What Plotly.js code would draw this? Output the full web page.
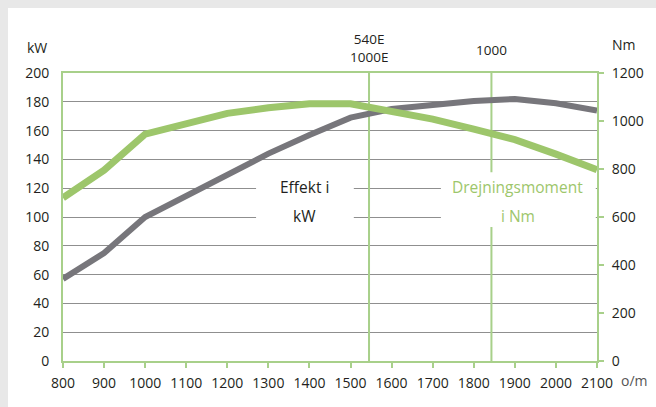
<!DOCTYPE html>
<html>
<head>
<meta charset="utf-8">
<script src="https://cdn.plot.ly/plotly-3.0.1.min.js"></script>
<style>
  html, body { margin: 0; padding: 0; background: #e8e8e8; }
  #chart { position: absolute; left: 8px; top: 8px; width: 648px; height: 399px; background: #ffffff; }
</style>
</head>
<body>
<div id="chart"></div>
<script>
// Data
const rpm = [800, 900, 1000, 1100, 1200, 1300, 1400, 1500, 1600, 1700, 1800, 1900, 2000, 2100];
const effektKW = [57, 75, 100, 115, 130, 144, 157, 169, 175, 178, 180.5, 182, 179, 174];
const momentNm = [680, 795, 945, 988, 1032, 1055, 1072, 1072, 1040, 1008, 966, 922, 862, 797];
const xTicks = [800, 900, 1000, 1100, 1200, 1300, 1400, 1500, 1600, 1700, 1800, 1900, 2000, 2100];
const kwTicks = [0, 20, 40, 60, 80, 100, 120, 140, 160, 180, 200];
const nmTicks = [0, 200, 400, 600, 800, 1000, 1200];
const markRpm = [1545, 1843];
const markLabels = ['540E<br>1000E', '1000'];

const GREEN = '#9dc66b';
const AXIS_GREEN = '#a8d08a';
const GRAY = '#77767b';
const TEXT = '#231f20';
const FONT = 'Open Sans, Noto Sans, sans-serif';

const traces = [
  {
    x: rpm, y: momentNm, yaxis: 'y2', type: 'scatter', mode: 'lines',
    line: { color: GREEN, width: 7 }, hoverinfo: 'none', showlegend: false
  },
  {
    x: rpm, y: effektKW, yaxis: 'y', type: 'scatter', mode: 'lines',
    line: { color: GRAY, width: 6 }, hoverinfo: 'none', showlegend: false
  }
];

const shapes = [
  // vertical marker lines
  { type: 'line', layer: 'between', xref: 'x', yref: 'y', x0: markRpm[0], x1: markRpm[0], y0: 0, y1: 200,
    line: { color: AXIS_GREEN, width: 2 } },
  { type: 'line', layer: 'between', xref: 'x', yref: 'y', x0: markRpm[1], x1: markRpm[1], y0: 0, y1: 200,
    line: { color: AXIS_GREEN, width: 2 } },
  // white boxes behind label texts (hide gridlines)
  { type: 'rect', layer: 'between', xref: 'x', yref: 'y', x0: 1270, x1: 1508, y0: 93, y1: 131,
    fillcolor: '#ffffff', line: { width: 0 } },
  { type: 'rect', layer: 'between', xref: 'x', yref: 'y', x0: 1720, x1: 2097, y0: 93, y1: 131,
    fillcolor: '#ffffff', line: { width: 0 } }
];

function ann(xref, yref, x, y, text, size, color) {
  return { xref: xref, yref: yref, x: x, y: y, text: text, showarrow: false,
    xanchor: 'center', yanchor: 'middle', align: 'center',
    font: { family: FONT, size: size, color: color } };
}

const annotations = [
  ann('x', 'paper', markRpm[0], 1.0866, markLabels[0], 13.5, TEXT),
  ann('x', 'paper', markRpm[1], 1.0811, markLabels[1], 13.5, TEXT),
  ann('paper', 'paper', -0.0484, 1.088, 'kW', 14, TEXT),
  ann('paper', 'paper', 1.0512, 1.0985, 'Nm', 14, TEXT),
  ann('paper', 'paper', 1.0700, -0.0672, 'o/m', 14, '#555'),
  ann('x', 'y', 1389, 120.8, 'Effekt i', 15.5, TEXT),
  ann('x', 'y', 1389, 100.7, 'kW', 15.5, TEXT),
  ann('x', 'y', 1907, 120.8, 'Drejningsmoment', 15.5, GREEN),
  ann('x', 'y', 1907, 100.7, 'i Nm', 15.5, GREEN)
];

const layout = {
  width: 648, height: 399,
  margin: { l: 55.3, r: 59.3, t: 65.3, b: 46.3, pad: 0 },
  paper_bgcolor: '#ffffff', plot_bgcolor: '#ffffff',
  font: { family: FONT, size: 14, color: TEXT },
  showlegend: false,
  xaxis: {
    range: [800, 2100], tickvals: xTicks, ticktext: xTicks.map(String),
    showgrid: false, zeroline: false,
    showline: true, linecolor: AXIS_GREEN, linewidth: 2, mirror: true,
    ticks: 'outside', ticklen: 5, tickwidth: 2, tickcolor: AXIS_GREEN,
    ticklabelstandoff: 3,
    tickfont: { family: FONT, size: 14, color: TEXT }
  },
  yaxis: {
    range: [0, 200], tickvals: kwTicks,
    showgrid: true, gridcolor: '#8f8f8f', gridwidth: 1, zeroline: false,
    showline: true, linecolor: AXIS_GREEN, linewidth: 2,
    ticks: '', ticklabelstandoff: 9,
    tickfont: { family: FONT, size: 14, color: TEXT }
  },
  yaxis2: {
    range: [0, 1200], tickvals: nmTicks, overlaying: 'y', side: 'right',
    showgrid: false, zeroline: false,
    showline: true, linecolor: AXIS_GREEN, linewidth: 2,
    ticks: 'outside', ticklen: 5, tickwidth: 2, tickcolor: AXIS_GREEN,
    ticklabelstandoff: 5,
    tickfont: { family: FONT, size: 14, color: TEXT }
  },
  shapes: shapes,
  annotations: annotations
};

Plotly.newPlot('chart', traces, layout, { staticPlot: true, displayModeBar: false });
</script>
</body>
</html>
